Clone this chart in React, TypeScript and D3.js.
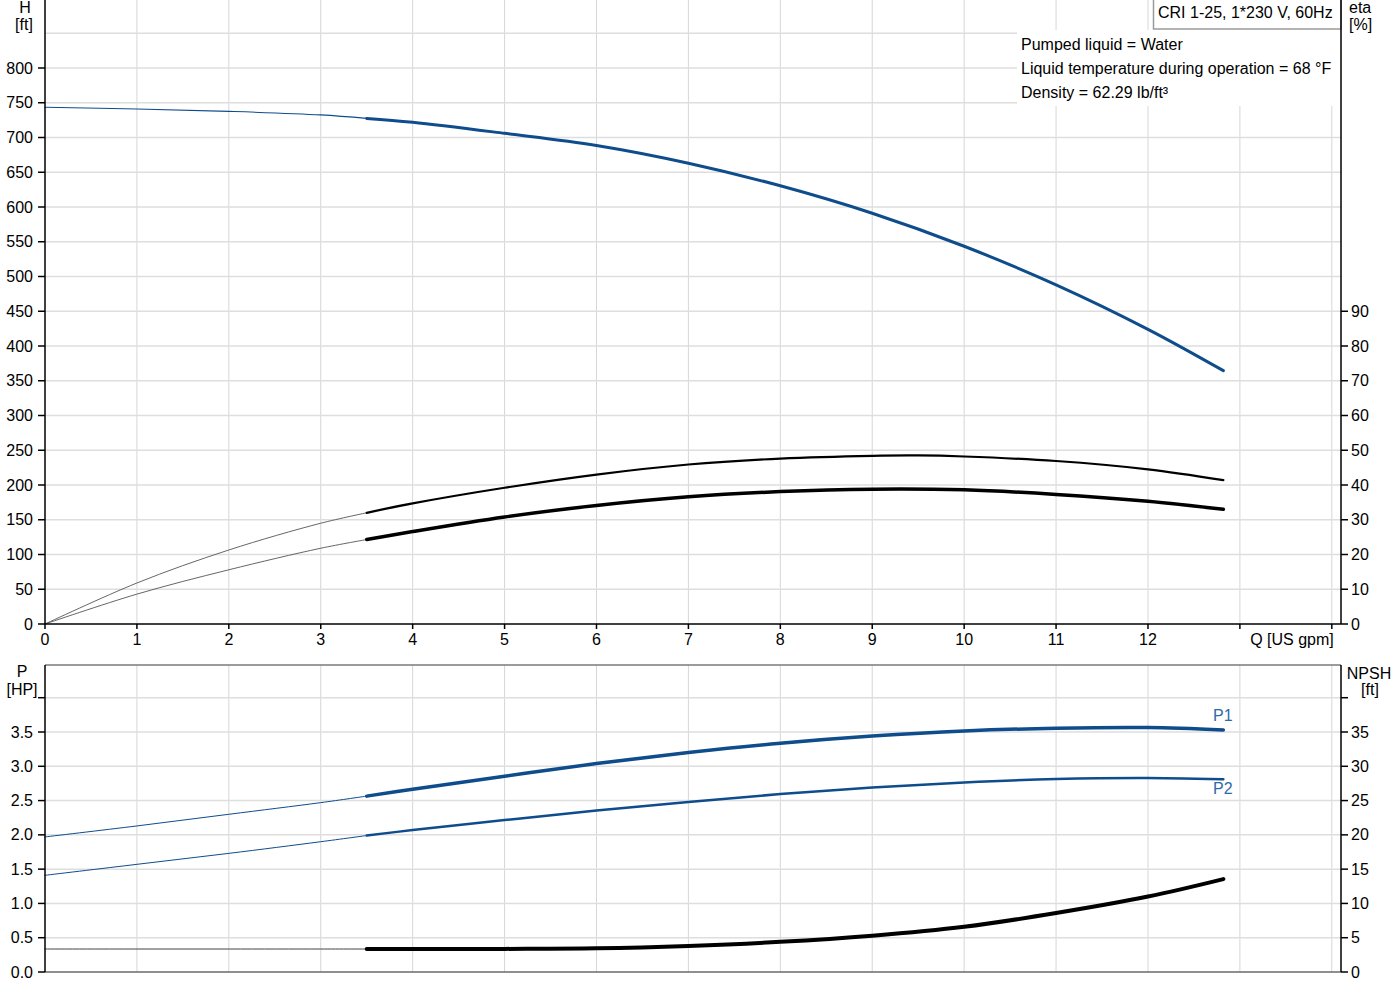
import React from "react";
import * as d3 from "d3";

// ---- data ----
const qH = [0, 1, 2, 3, 3.5, 4, 5, 6, 7, 8, 9, 10, 11, 12, 12.82];
const headFt = [743.6, 741, 737.6, 732.5, 727.5, 722, 706, 688.5, 663, 630.5, 591, 543.5, 488, 424, 364.5];

const qEta1 = [0, 1, 2, 3, 3.5, 4, 5, 6, 7, 8, 9, 9.5, 10, 11, 12, 12.82];
const eta1 = [0, 11.8, 21.3, 29, 32, 34.7, 39.2, 43.0, 45.9, 47.6, 48.4, 48.5, 48.2, 46.9, 44.5, 41.4];

const qEta2 = [0, 1, 2, 3, 3.5, 4, 5, 6, 7, 8, 9, 10, 11, 12, 12.82];
const eta2 = [0, 8.6, 15.6, 21.8, 24.3, 26.6, 30.8, 34.1, 36.6, 38.1, 38.8, 38.6, 37.3, 35.3, 33.0];

const qP = [0, 1, 2, 3, 3.5, 4, 5, 6, 7, 8, 9, 10, 11, 12, 12.82];
const p1HP = [1.97, 2.13, 2.3, 2.47, 2.565, 2.665, 2.855, 3.04, 3.2, 3.335, 3.44, 3.515, 3.555, 3.565, 3.53];
const p2HP = [1.41, 1.57, 1.73, 1.9, 1.99, 2.07, 2.215, 2.355, 2.48, 2.595, 2.69, 2.765, 2.815, 2.83, 2.81];

const qN = [0, 1, 2, 3, 3.5, 4, 5, 6, 7, 8, 9, 10, 11, 12, 12.82];
const npshFt = [3.35, 3.35, 3.35, 3.35, 3.35, 3.35, 3.37, 3.45, 3.8, 4.4, 5.3, 6.6, 8.6, 11.0, 13.55];

const xTicks = [0, 1, 2, 3, 4, 5, 6, 7, 8, 9, 10, 11, 12];
const xGrid = [1, 2, 3, 4, 5, 6, 7, 8, 9, 10, 11, 12, 13, 14];
const hTicks = [0, 50, 100, 150, 200, 250, 300, 350, 400, 450, 500, 550, 600, 650, 700, 750, 800];
const hGrid = [50, 100, 150, 200, 250, 300, 350, 400, 450, 500, 550, 600, 650, 700, 750, 800, 850];
const etaTicks = [0, 10, 20, 30, 40, 50, 60, 70, 80, 90];
const pTicks = [0, 0.5, 1, 1.5, 2, 2.5, 3, 3.5];
const pGrid = [0.5, 1, 1.5, 2, 2.5, 3, 3.5, 4];
const nTicks = [0, 5, 10, 15, 20, 25, 30, 35];

const titleText = "CRI 1-25, 1*230 V, 60Hz";
const infoLines = [
  "Pumped liquid = Water",
  "Liquid temperature during operation = 68 °F",
  "Density = 62.29 lb/ft³",
];

const SPLIT = 3.5;
const BLUE = "#0f4c8c";
const FONT = "'Liberation Sans', Arial, sans-serif";

// ---- scales ----
const L = 45, R = 1341;
const x = d3.scaleLinear().domain([0, 14.1]).range([L, R]);
const yH = d3.scaleLinear().domain([0, 800]).range([624, 68]);
const yEta = d3.scaleLinear().domain([0, 90]).range([624, 311.25]);
const yP = d3.scaleLinear().domain([0, 3.5]).range([972, 732]);
const yN = d3.scaleLinear().domain([0, 35]).range([972, 732]);

const TOP1 = 0, BOT1 = yH(0);
const TOP2 = 665, BOT2 = yP(0);

function seg(qs: number[], vs: number[], ys: any, part: "thin" | "thick") {
  const pts = qs.map((q, i) => [q, vs[i]] as [number, number]).filter(([q]) =>
    part === "thin" ? q <= SPLIT : q >= SPLIT
  );
  return d3
    .line<[number, number]>()
    .x((d) => x(d[0]))
    .y((d) => ys(d[1]))
    .curve(d3.curveCatmullRom.alpha(0.5))(pts) as string;
}

function Curve({ qs, vs, ys, color, thin, thick, thinColor }: any) {
  return (
    <g fill="none" strokeLinecap="round">
      <path d={seg(qs, vs, ys, "thin")} stroke={thinColor || color} strokeWidth={thin} />
      <path d={seg(qs, vs, ys, "thick")} stroke={color} strokeWidth={thick} />
    </g>
  );
}

export default function App() {
  const fmtP = d3.format(".1f");
  return (
    <div style={{ position: "absolute", left: 0, top: 0 }}>
      <svg width={1400} height={1000} style={{ display: "block", fontFamily: FONT }}>
        <rect x={0} y={0} width={1400} height={1000} fill="#fff" />

        {/* ===== top panel grid ===== */}
        <g stroke="#d6d6d6" strokeWidth={1}>
          {xGrid.map((q) => (
            <line key={"vg1" + q} x1={x(q)} x2={x(q)} y1={TOP1} y2={BOT1} />
          ))}
          {hGrid.map((h) => (
            <line key={"hg1" + h} x1={L} x2={R} y1={yH(h)} y2={yH(h)} strokeWidth={1.5} stroke="#dedede" />
          ))}
        </g>

        {/* ===== bottom panel grid ===== */}
        <g stroke="#d6d6d6" strokeWidth={1}>
          {xGrid.map((q) => (
            <line key={"vg2" + q} x1={x(q)} x2={x(q)} y1={TOP2} y2={BOT2} />
          ))}
          {pGrid.map((p) => (
            <line key={"hg2" + p} x1={L} x2={R} y1={yP(p)} y2={yP(p)} strokeWidth={1.5} stroke="#dedede" />
          ))}
        </g>

        {/* info box */}
        <rect x={1017} y={30} width={R - 1017} height={76} fill="#fff" />
        <g fontSize={16} fill="#000">
          {infoLines.map((t, i) => (
            <text key={t} x={1021} y={50 + i * 24}>
              {t}
            </text>
          ))}
        </g>

        {/* title box */}
        <rect x={1153.5} y={-1} width={R - 1153.5} height={30} fill="#fff" stroke="#9a9a9a" strokeWidth={1.5} />
        <text x={1158} y={18} fontSize={16} fill="#000">
          {titleText}
        </text>

        {/* ===== curves top ===== */}
        <Curve qs={qEta1} vs={eta1} ys={yEta} color="#000" thinColor="#555" thin={0.9} thick={2.2} />
        <Curve qs={qEta2} vs={eta2} ys={yEta} color="#000" thinColor="#555" thin={0.9} thick={3.5} />
        <Curve qs={qH} vs={headFt} ys={yH} color={BLUE} thin={1.1} thick={3} />

        {/* ===== curves bottom ===== */}
        <Curve qs={qP} vs={p1HP} ys={yP} color={BLUE} thin={1} thick={3.5} />
        <Curve qs={qP} vs={p2HP} ys={yP} color={BLUE} thin={1} thick={2.5} />
        <Curve qs={qN} vs={npshFt} ys={yN} color="#000" thinColor="#444" thin={1} thick={4} />
        <text x={1213} y={721} fontSize={16} fill="#2e6aa8">P1</text>
        <text x={1213} y={794} fontSize={16} fill="#2e6aa8">P2</text>

        {/* ===== top panel axes ===== */}
        <g stroke="#000" strokeWidth={1.5}>
          <line x1={L} x2={L} y1={TOP1} y2={BOT1} />
          <line x1={R} x2={R} y1={TOP1} y2={BOT1} />
          <line x1={L} x2={R} y1={BOT1} y2={BOT1} />
          {hTicks.map((h) => (
            <line key={"lt" + h} x1={L - 7} x2={L} y1={yH(h)} y2={yH(h)} />
          ))}
          {etaTicks.map((e) => (
            <line key={"rt" + e} x1={R} x2={R + 7} y1={yEta(e)} y2={yEta(e)} />
          ))}
          {[...xTicks, 13, 14].map((q) => (
            <line key={"xt" + q} x1={x(q)} x2={x(q)} y1={BOT1} y2={BOT1 + 5} />
          ))}
        </g>
        <g fontSize={16} fill="#000">
          {hTicks.map((h) => (
            <text key={"ll" + h} x={33} y={yH(h)} dy="0.35em" textAnchor="end">
              {h}
            </text>
          ))}
          {etaTicks.map((e) => (
            <text key={"rl" + e} x={1351} y={yEta(e)} dy="0.35em">
              {e}
            </text>
          ))}
          {xTicks.map((q) => (
            <text key={"xl" + q} x={x(q)} y={645} textAnchor="middle">
              {q}
            </text>
          ))}
          <text x={1292} y={645} textAnchor="middle">Q [US gpm]</text>
          <text x={25} y={12.5} textAnchor="middle">H</text>
          <text x={24} y={30} textAnchor="middle">[ft]</text>
          <text x={1349} y={12.5}>eta</text>
          <text x={1349} y={30}>[%]</text>
        </g>

        {/* ===== bottom panel axes ===== */}
        <g>
          <line x1={L} x2={R} y1={TOP2} y2={TOP2} stroke="#7a7a7a" strokeWidth={1.5} />
          <line x1={L} x2={R} y1={BOT2} y2={BOT2} stroke="#6a6a6a" strokeWidth={1.5} />
          <g stroke="#000" strokeWidth={1.5}>
            <line x1={L} x2={L} y1={TOP2} y2={BOT2} />
            <line x1={R} x2={R} y1={TOP2} y2={BOT2} />
            {[...pTicks, 4].map((p) => (
              <line key={"plt" + p} x1={L - 7} x2={L} y1={yP(p)} y2={yP(p)} />
            ))}
            {[...nTicks, 40].map((n) => (
              <line key={"nrt" + n} x1={R} x2={R + 7} y1={yN(n)} y2={yN(n)} />
            ))}
          </g>
        </g>
        <g fontSize={16} fill="#000">
          {pTicks.map((p) => (
            <text key={"pl" + p} x={33} y={yP(p)} dy="0.35em" textAnchor="end">
              {fmtP(p)}
            </text>
          ))}
          {nTicks.map((n) => (
            <text key={"nl" + n} x={1351} y={yN(n)} dy="0.35em">
              {n}
            </text>
          ))}
          <text x={22} y={677} textAnchor="middle">P</text>
          <text x={22} y={695} textAnchor="middle">[HP]</text>
          <text x={1369} y={679} textAnchor="middle">NPSH</text>
          <text x={1370} y={695} textAnchor="middle">[ft]</text>
        </g>
      </svg>
    </div>
  );
}
